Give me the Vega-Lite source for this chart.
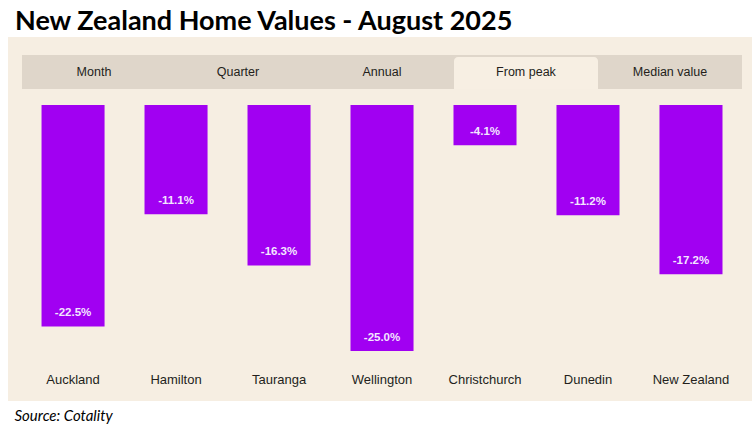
{
  "$schema": "https://vega.github.io/schema/vega-lite/v6.json",
  "width": 744,
  "height": 364,
  "autosize": {"type": "none"},
  "padding": {"left": 8, "top": 37, "right": 4, "bottom": 25},
  "background": "white",
  "title": {
    "text": "New Zealand Home Values - August 2025",
    "anchor": "start",
    "frame": "group",
    "font": "Lato",
    "fontSize": 27,
    "fontWeight": "bold",
    "color": "#000000",
    "dx": 7,
    "dy": 28,
    "offset": 8,
    "baseline": "alphabetic"
  },
  "config": {
    "view": {"fill": "#f6eee2", "stroke": null},
    "locale": {"number": {"decimal": ".", "thousands": ",", "grouping": [3], "currency": ["$", ""], "minus": "-"}}
  },
  "datasets": {
    "cities": [
      {"city": "Auckland", "value": -0.225},
      {"city": "Hamilton", "value": -0.111},
      {"city": "Tauranga", "value": -0.163},
      {"city": "Wellington", "value": -0.25},
      {"city": "Christchurch", "value": -0.041},
      {"city": "Dunedin", "value": -0.112},
      {"city": "New Zealand", "value": -0.172}
    ],
    "tabs": [
      {"tab": "Month"},
      {"tab": "Quarter"},
      {"tab": "Annual"},
      {"tab": "From peak"},
      {"tab": "Median value"}
    ]
  },
  "layer": [
    {
      "data": {"name": "tabs"},
      "layer": [
        {
          "mark": {"type": "rect", "color": "#dfd6ca"},
          "encoding": {
            "x": {"field": "tab", "type": "nominal", "sort": null, "scale": {"paddingInner": 0, "paddingOuter": 0.0833, "align": 0.583}, "axis": null},
            "y": {"datum": 0.0508, "type": "quantitative", "scale": {"domain": [-0.3008, 0.0691], "nice": false, "zero": false}, "axis": null},
            "y2": {"datum": 0.0163}
          }
        },
        {
          "transform": [{"filter": "datum.tab === 'From peak'"}],
          "mark": {"type": "rect", "color": "#f7efe3", "cornerRadiusTopLeft": 4, "cornerRadiusTopRight": 4},
          "encoding": {
            "x": {"field": "tab", "type": "nominal", "sort": null},
            "y": {"datum": 0.0488, "type": "quantitative"},
            "y2": {"datum": 0.0163}
          }
        },
        {
          "mark": {"type": "text", "font": "Liberation Sans", "fontSize": 12.5, "color": "#231e1b", "baseline": "middle"},
          "encoding": {
            "x": {"field": "tab", "type": "nominal", "sort": null},
            "y": {"datum": 0.0335, "type": "quantitative"},
            "text": {"field": "tab"}
          }
        }
      ]
    },
    {
      "data": {"name": "cities"},
      "layer": [
        {
          "mark": {"type": "bar", "color": "#a100f2"},
          "encoding": {
            "x": {
              "field": "city", "type": "nominal", "sort": null,
              "scale": {"paddingInner": 0.388, "paddingOuter": 0.306, "align": 0.532},
              "axis": {
                "orient": "bottom",
                "title": "Source: Cotality",
                "labels": false, "ticks": false, "domain": false, "grid": false,
                "titleFont": "Lato", "titleFontStyle": "italic", "titleFontWeight": "normal",
                "titleFontSize": 15, "titleColor": "#000000",
                "titleAnchor": "start", "titleAlign": "left", "titleX": 6, "titleY": 19, "titleBaseline": "alphabetic"
              }
            },
            "y": {"field": "value", "type": "quantitative"},
            "y2": {"datum": 0}
          }
        },
        {
          "mark": {"type": "text", "font": "Liberation Sans", "fontSize": 11.5, "fontWeight": "bold", "color": "#f3e6ff", "baseline": "middle", "dy": -13},
          "encoding": {
            "x": {"field": "city", "type": "nominal", "sort": null},
            "y": {"field": "value", "type": "quantitative"},
            "text": {"field": "value", "type": "quantitative", "format": ".1%"}
          }
        },
        {
          "mark": {"type": "text", "font": "Liberation Sans", "fontSize": 13, "color": "#231f1c", "baseline": "middle"},
          "encoding": {
            "x": {"field": "city", "type": "nominal", "sort": null},
            "y": {"datum": -0.2795, "type": "quantitative"},
            "text": {"field": "city"}
          }
        }
      ]
    }
  ],
  "resolve": {"scale": {"x": "independent"}, "axis": {"x": "independent"}}
}
